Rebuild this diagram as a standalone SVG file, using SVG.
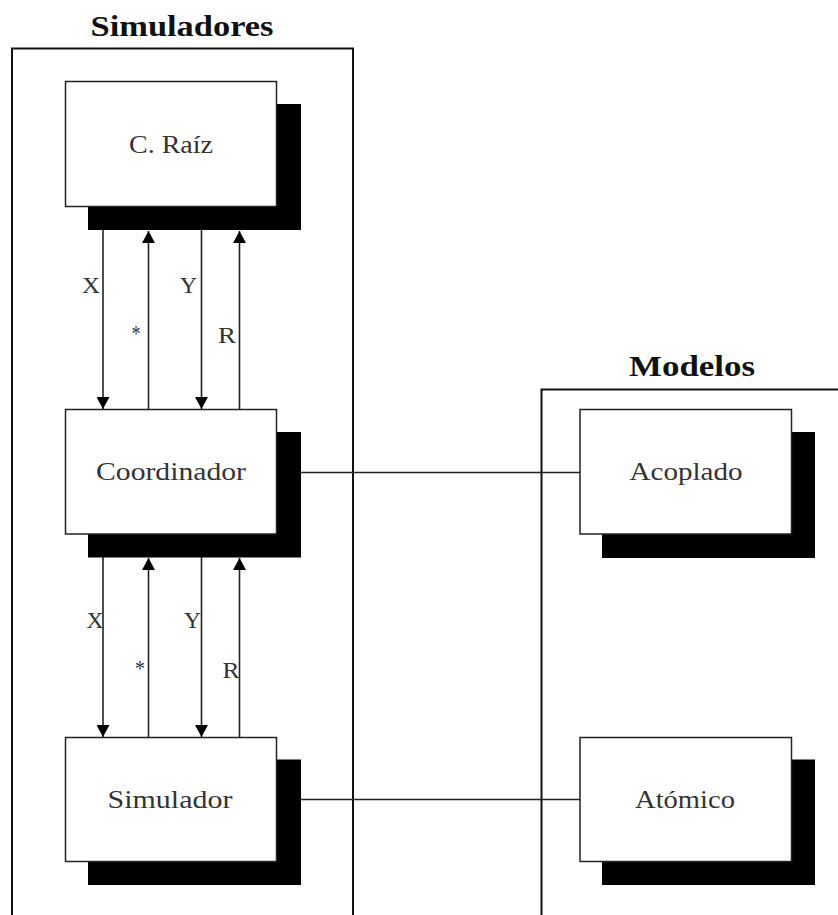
<svg xmlns="http://www.w3.org/2000/svg" width="838" height="915" viewBox="0 0 838 915">
  <style>
    .frame { fill: none; stroke: #111; stroke-width: 2; }
    .shadow { fill: #000; }
    .box { fill: #fff; stroke: #222; stroke-width: 1.5; }
    .title { font-family: "Liberation Serif", "DejaVu Serif", serif; font-weight: bold; font-size: 30px; fill: #111; }
    .label { font-family: "Liberation Serif", "DejaVu Serif", serif; font-size: 26px; fill: #333; text-anchor: middle; }
    .tag { font-family: "Liberation Serif", "DejaVu Serif", serif; font-size: 24px; fill: #333; }
    .link { stroke: #222; stroke-width: 1.6; fill: none; }
    .arrow { stroke: #222; stroke-width: 1.6; fill: none; marker-end: url(#head); }
  </style>
  <defs>
    <marker id="head" markerUnits="userSpaceOnUse" markerWidth="13" markerHeight="13" refX="12" refY="6.5" orient="auto">
      <path d="M0,0 L12,6.5 L0,13 Z" fill="#000"/>
    </marker>
  </defs>

  <rect width="838" height="915" fill="#fff"/>

  <!-- container frames -->
  <g id="simuladores">
    <path class="frame" d="M12,920 V48.5 H353 V920"/>
    <text class="title" x="182" y="36" text-anchor="middle" textLength="183" lengthAdjust="spacingAndGlyphs">Simuladores</text>
  </g>
  <g id="modelos">
    <path class="frame" d="M541.5,920 V389.5 H845"/>
    <text class="title" x="692" y="376" text-anchor="middle" textLength="126" lengthAdjust="spacingAndGlyphs">Modelos</text>
  </g>

  <!-- connectors -->
  <g id="connectors">
    <line class="link" x1="300" y1="472.5" x2="580" y2="472.5"/>
    <line class="link" x1="300" y1="799.5" x2="580" y2="799.5"/>

    <line class="arrow" x1="103" y1="230" x2="103" y2="409"/>
    <line class="arrow" x1="148.5" y1="409" x2="148.5" y2="231"/>
    <line class="arrow" x1="201.5" y1="230" x2="201.5" y2="409"/>
    <line class="arrow" x1="239.5" y1="409" x2="239.5" y2="231"/>
    <text class="tag" x="82" y="292.5" textLength="18" lengthAdjust="spacingAndGlyphs">X</text>
    <text class="tag" x="131.5" y="341" textLength="9" lengthAdjust="spacingAndGlyphs">*</text>
    <text class="tag" x="180" y="292.5" textLength="17" lengthAdjust="spacingAndGlyphs">Y</text>
    <text class="tag" x="218" y="342.5" textLength="18" lengthAdjust="spacingAndGlyphs">R</text>

    <line class="arrow" x1="103" y1="557" x2="103" y2="737"/>
    <line class="arrow" x1="148.5" y1="737" x2="148.5" y2="558"/>
    <line class="arrow" x1="201.5" y1="557" x2="201.5" y2="737"/>
    <line class="arrow" x1="239.5" y1="737" x2="239.5" y2="558"/>
    <text class="tag" x="86.5" y="627.5" textLength="17" lengthAdjust="spacingAndGlyphs">X</text>
    <text class="tag" x="135" y="676" textLength="10" lengthAdjust="spacingAndGlyphs">*</text>
    <text class="tag" x="184" y="627.5" textLength="17" lengthAdjust="spacingAndGlyphs">Y</text>
    <text class="tag" x="222.5" y="678" textLength="17" lengthAdjust="spacingAndGlyphs">R</text>
  </g>

  <!-- nodes -->
  <g id="raiz">
    <rect class="shadow" x="88" y="104" width="213" height="126"/>
    <rect class="box" x="65.5" y="81.5" width="211" height="125"/>
    <text class="label" x="171" y="153" textLength="84" lengthAdjust="spacingAndGlyphs">C. Raíz</text>
  </g>
  <g id="coordinador">
    <rect class="shadow" x="88" y="432" width="213" height="125.5"/>
    <rect class="box" x="65.5" y="409.5" width="211" height="124.5"/>
    <text class="label" x="171" y="480" textLength="150" lengthAdjust="spacingAndGlyphs">Coordinador</text>
  </g>
  <g id="simulador">
    <rect class="shadow" x="88" y="759.5" width="213" height="125.5"/>
    <rect class="box" x="65.5" y="737.5" width="211" height="124"/>
    <text class="label" x="170" y="807.5" textLength="125" lengthAdjust="spacingAndGlyphs">Simulador</text>
  </g>
  <g id="acoplado">
    <rect class="shadow" x="602" y="432" width="213" height="126"/>
    <rect class="box" x="580" y="409.5" width="211.5" height="124.5"/>
    <text class="label" x="686" y="479.5" textLength="113" lengthAdjust="spacingAndGlyphs">Acoplado</text>
  </g>
  <g id="atomico">
    <rect class="shadow" x="602" y="759.5" width="213" height="125.5"/>
    <rect class="box" x="580" y="737.5" width="211.5" height="124"/>
    <text class="label" x="685" y="807.5" textLength="100" lengthAdjust="spacingAndGlyphs">Atómico</text>
  </g>
</svg>
